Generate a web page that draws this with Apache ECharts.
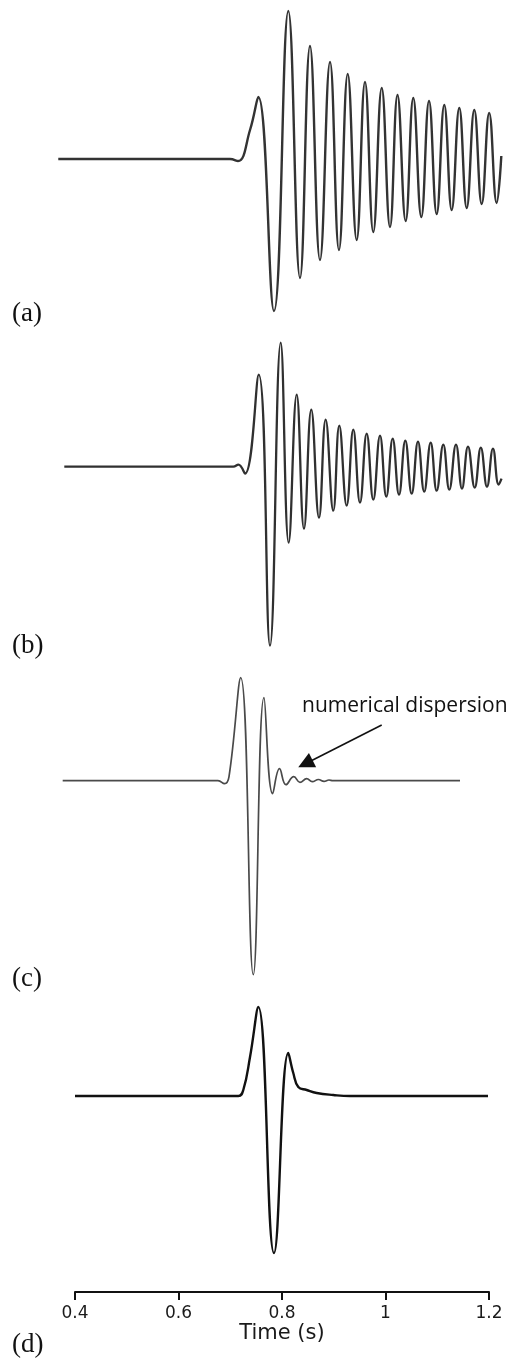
<!DOCTYPE html>
<html><head><meta charset="utf-8">
<script src="https://cdn.jsdelivr.net/npm/echarts@6/dist/echarts.min.js"></script>
<style>html,body{margin:0;padding:0;background:#fff}#c{width:517px;height:1358px}</style>
</head><body><div id="c"></div>
<script>
// ---- data (time in s, amplitude in arbitrary units) ----
const tA = [0.3677,0.6995,0.7150,0.7382,0.7542,0.7845,0.8122,0.8348,0.8541,0.8734,0.8928,0.9101,0.9270,0.9443,0.9604,0.9764,0.9927,1.0087,1.0232,1.0390,1.0537,1.0692,1.0841,1.0989,1.1136,1.1279,1.1426,1.1569,1.1716,1.1859,1.2004,1.2149,1.2238];
const vA = [0,0,-2,29,62,-152,148,-119,113,-101,97,-91,85,-81,77,-73,71,-68,64,-62,61,-58,58,-55,54,-51,51,-49,49,-45,46,-44,3];

const tB = [0.3793,0.7059,0.7156,0.7285,0.7550,0.7768,0.7975,0.8129,0.8284,0.8425,0.8566,0.8715,0.8844,0.8991,0.9107,0.9250,0.9378,0.9507,0.9637,0.9764,0.9894,1.0016,1.0139,1.0261,1.0383,1.0506,1.0628,1.0748,1.0873,1.0989,1.1117,1.1233,1.1362,1.1478,1.1594,1.1724,1.1842,1.1961,1.2077,1.2187,1.2242];
const vB = [0,0,2,-7,92,-179,124,-76,72,-62,57,-51,47,-44,41,-39,37,-36,33,-33,31,-30,28,-28,26,-27,25,-25,24,-24,22,-23,22,-22,20,-21,19,-20,18,-18,-12];

const tC = [0.3762,0.6763,0.6889,0.6976,0.7202,0.7445,0.7652,0.7820,0.7952,0.8077,0.8228,0.8348,0.8477,0.8585,0.8705,0.8812,0.8908,0.8986,1.1440];
const vC = [0,0,-3,4,103,-194,83,-13,12,-4,4,-1.6,2,-1,1.2,-0.6,0.7,0,0];

const tD = [0.4,0.7156,0.7252,0.7382,0.7542,0.7845,0.8122,0.8218,0.8315,0.8477,0.8671,0.8991,0.9314,1.1981];
const vD = [0,0,6,39,89,-157,43,23,9,6,3,1,0,0];

const xTicks = [0.4, 0.6, 0.8, 1, 1.2];
const panelLabels = ['(a)', '(b)', '(c)', '(d)'];
const annotationText = 'numerical dispersion';
const arrowFrom = [0.9927, 55.7];
const arrowTo = [0.8452, 17.0];

const zip = (t, v) => t.map((x, i) => [x, v[i]]);

const chart = echarts.init(document.getElementById('c'), null, {renderer: 'canvas'});

const panels = [
  {top: 0,     height: 320, yMin: -161, yMax: 159},
  {top: 306.7, height: 360, yMin: -200, yMax: 160},
  {top: 660.7, height: 320, yMin: -200, yMax: 120},
  {top: 996,   height: 296, yMin: -196, yMax: 100}
];

const grids = panels.map((p, i) => i < 3
  ? {left: 49.125, width: 465.75, top: p.top, height: p.height, outerBoundsMode: 'none', containLabel: false}
  : {left: 75, width: 414, top: p.top, height: p.height, outerBoundsMode: 'none', containLabel: false});

const xAxes = panels.map((p, i) => i < 3
  ? {type: 'value', gridIndex: i, min: 0.35, max: 1.25, show: false}
  : {
      type: 'value', gridIndex: i, min: 0.4, max: 1.2, interval: 0.2,
      axisLine: {show: true, onZero: false, lineStyle: {color: '#111', width: 2}},
      axisTick: {show: true, length: 8, inside: false, lineStyle: {color: '#111', width: 2}},
      splitLine: {show: false},
      axisLabel: {
        margin: 13, color: '#1a1a1a', fontFamily: 'DejaVu Sans', fontSize: 17,
        formatter: v => { const m = xTicks.find(x => Math.abs(x - v) < 1e-6); return m === undefined ? '' : String(m); }
      },
      name: 'Time (s)', nameLocation: 'middle', nameGap: 29,
      nameTextStyle: {color: '#1a1a1a', fontFamily: 'DejaVu Sans', fontSize: 21}
    });

const yAxes = panels.map((p, i) => ({type: 'value', gridIndex: i, min: p.yMin, max: p.yMax, show: false}));

const lineStyles = [
  {color: '#333333', width: 2.4},
  {color: '#303030', width: 2.3},
  {color: '#4a4a4a', width: 1.7},
  {color: '#111111', width: 2.4}
];
const datasets = [zip(tA, vA), zip(tB, vB), zip(tC, vC), zip(tD, vD)];

const series = datasets.map((d, i) => {
  const s = {
    type: 'line', xAxisIndex: i, yAxisIndex: i, data: d,
    showSymbol: false, symbol: 'none', smooth: 0.45,
    lineStyle: lineStyles[i], silent: true, animation: false
  };
  if (i === 2) {
    s.markLine = {
      silent: true, animation: false,
      symbol: ['none', 'triangle'], symbolSize: 16,
      lineStyle: {color: '#111', width: 1.6, type: 'solid'},
      label: {show: false},
      data: [[{coord: arrowFrom}, {coord: arrowTo}]]
    };
  }
  return s;
});

const labelY = [316, 648, 981, 1347];
const graphic = panelLabels.map((t, i) => ({
  type: 'text', left: 12, top: labelY[i] - 16,
  style: {text: t, fill: '#111', font: '27px "Liberation Serif"'}
}));
graphic.push({
  type: 'text', left: 302, top: 696,
  style: {text: annotationText, fill: '#111', font: '21px "Open Sans"'}
});

chart.setOption({
  backgroundColor: '#ffffff',
  animation: false,
  grid: grids, xAxis: xAxes, yAxis: yAxes, series: series, graphic: graphic
});
</script></body></html>
